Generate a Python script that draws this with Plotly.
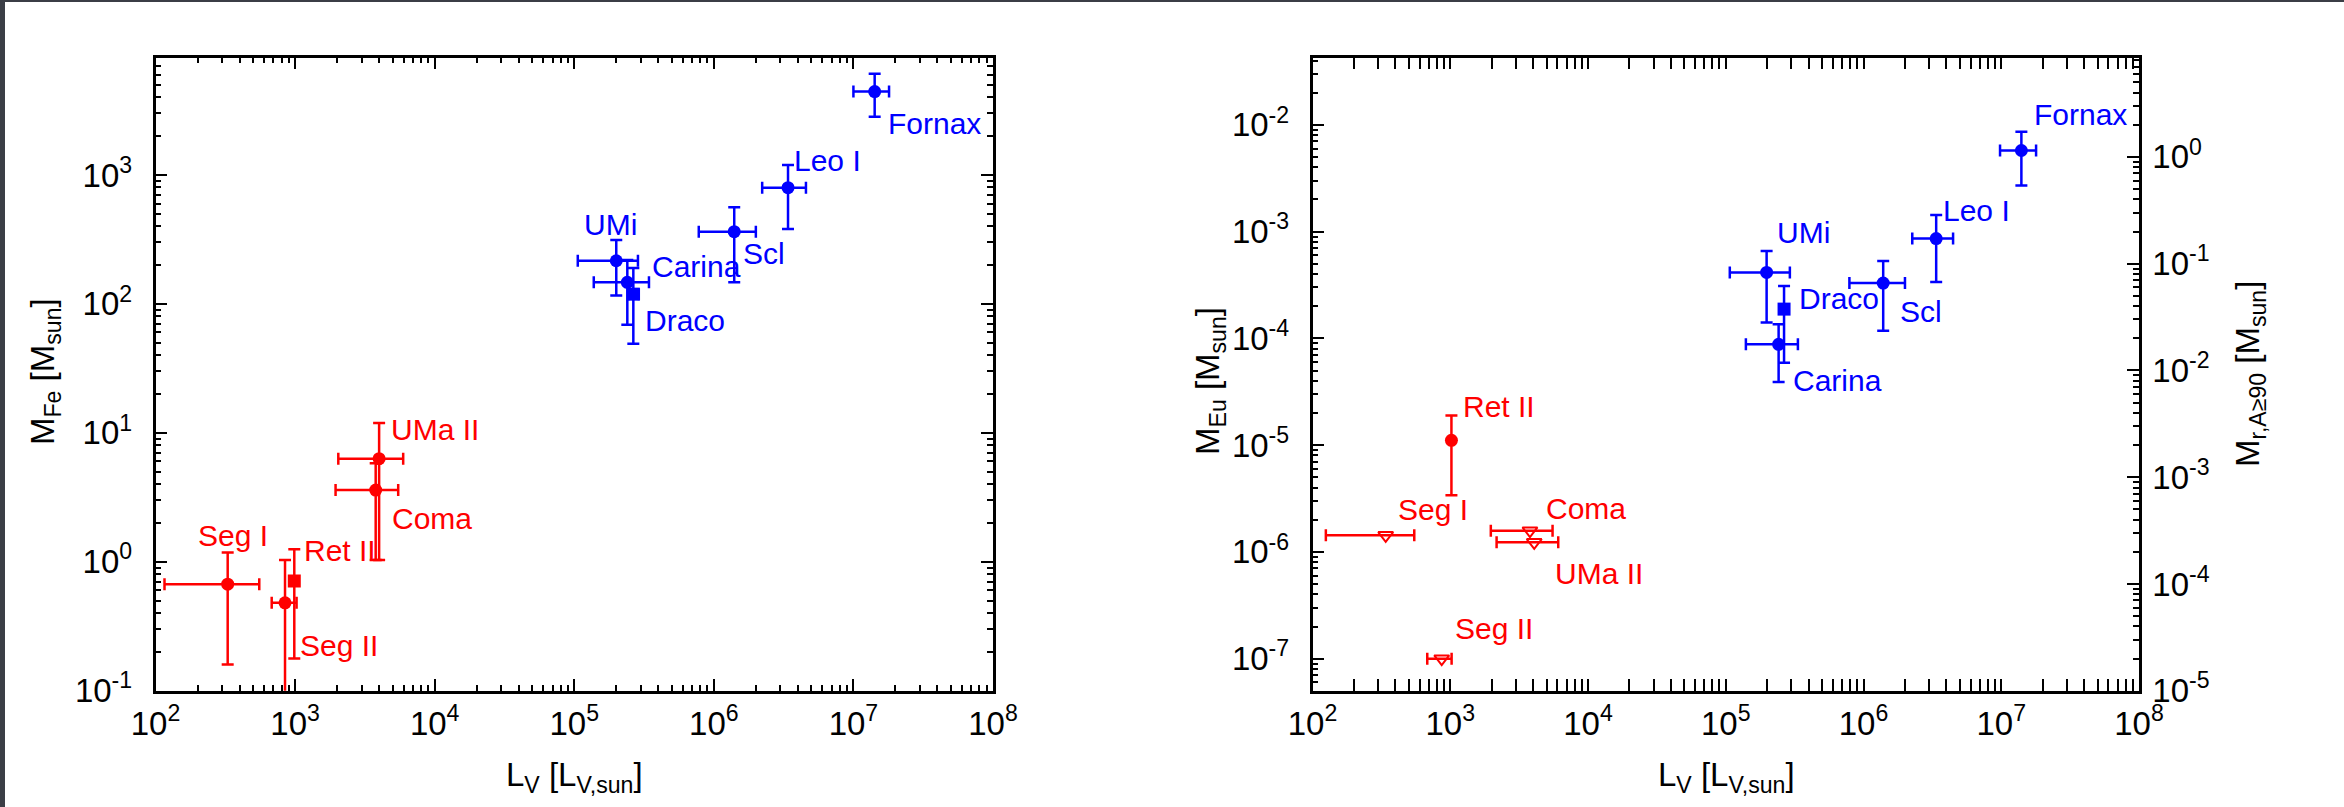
import numpy as np
import plotly.graph_objects as go

# ---------------- data: left panel (iron mass) ----------------
FE_BLUE_NAMES = ["Fornax", "Leo I", "Scl", "UMi", "Carina", "Draco"]
FE_BLUE_L = [1.42e7, 3.4e6, 1.4e6, 2.0e5, 2.4e5, 2.65e5]
FE_BLUE_L_LO = [1.0e7, 2.22e6, 7.8e5, 1.06e5, 1.38e5, 2.45e5]
FE_BLUE_L_HI = [1.8e7, 4.57e6, 2.0e6, 2.86e5, 3.43e5, 2.9e5]
FE_BLUE_M = [4430, 796, 363, 216, 147, 119]
FE_BLUE_M_LO = [2830, 381, 147, 116, 69, 49]
FE_BLUE_M_HI = [6080, 1196, 561, 313, 219, 190]
FE_BLUE_SYM = ["circle", "circle", "circle", "circle", "circle", "square"]

FE_RED_NAMES = ["UMa II", "Coma", "Seg I", "Ret II", "Seg II"]
FE_RED_L = [4000, 3780, 329, 987, 847]
FE_RED_L_LO = [2040, 1950, 116, None, 680]
FE_RED_L_HI = [5950, 5480, 554, None, 1025]
FE_RED_M = [6.3, 3.6, 0.67, 0.71, 0.48]
FE_RED_M_LO = [1.03, 1.03, 0.16, 0.178, 0.05]
FE_RED_M_HI = [11.9, 5.8, 1.18, 1.25, 1.03]
FE_RED_SYM = ["circle", "circle", "circle", "square", "circle"]

# ---------------- data: right panel (europium mass) ----------------
EU_BLUE_NAMES = ["Fornax", "Leo I", "Scl", "UMi", "Draco", "Carina"]
EU_BLUE_L = [1.4e7, 3.37e6, 1.39e6, 1.98e5, 2.65e5, 2.42e5]
EU_BLUE_L_LO = [9.8e6, 2.26e6, 7.9e5, 1.07e5, None, 1.40e5]
EU_BLUE_L_HI = [1.79e7, 4.47e6, 2.0e6, 2.92e5, None, 3.34e5]
EU_BLUE_M = [5.75e-3, 8.6e-4, 3.3e-4, 4.15e-4, 1.88e-4, 8.8e-5]
EU_BLUE_M_LO = [2.7e-3, 3.37e-4, 1.18e-4, 1.41e-4, 5.9e-5, 3.9e-5]
EU_BLUE_M_HI = [8.6e-3, 1.43e-3, 5.3e-4, 6.6e-4, 3.1e-4, 1.36e-4]
EU_BLUE_SYM = ["circle", "circle", "circle", "circle", "square", "circle"]

EU_RED_NAMES = ["Ret II", "Seg I", "Coma", "UMa II", "Seg II"]
EU_RED_L = [1020, 340, 3790, 4070, 867]
EU_RED_L_LO = [None, 125, 1970, 2170, 681]
EU_RED_L_HI = [None, 548, 5530, 6080, 1023]
EU_RED_M = [1.11e-5, 1.43e-6, 1.58e-6, 1.23e-6, 1.0e-7]
EU_RED_M_LO = [3.4e-6, None, None, None, None]
EU_RED_M_HI = [1.9e-5, None, None, None, None]
EU_RED_SYM = ["circle", "triangle-down-open", "triangle-down-open",
              "triangle-down-open", "triangle-down-open"]

# tick exponents
X_TICK_EXP = [2, 3, 4, 5, 6, 7, 8]
FE_TICK_EXP = [-1, 0, 1, 2, 3]
EU_TICK_EXP = [-7, -6, -5, -4, -3, -2]
MR_TICK_EXP = [-5, -4, -3, -2, -1, 0]

# ---------------- label offsets (pixels: dx to left edge, dy up) ----------------
FE_BLUE_OFF = [(11, -32), (4, 27), (7, -22), (-34, 36), (23, 16), (10, -26)]
FE_RED_OFF = [(10, 29), (14, -28), (-32, 49), (8, 30), (13, -43)]
EU_BLUE_OFF = [(11, 36), (5, 28), (15, -28), (8, 40), (13, 11), (12, -36)]
EU_RED_OFF = [(10, 34), (10, 26), (14, 22), (19, -31), (11, 30)]

BLUE = "#0000ff"
RED = "#ff0000"
FONT = "Liberation Sans, Arial, Helvetica, sans-serif"
FS = 30
TICKFS = 33
TITLEFS = 33

fig = go.Figure()
annotations = []


def add_points(names, L, Llo, Lhi, M, Mlo, Mhi, syms, offs, color, xa, ya):
    for i, n in enumerate(names):
        ex = None
        if Llo[i] is not None:
            ex = dict(type="data", symmetric=False, array=[Lhi[i] - L[i]],
                      arrayminus=[L[i] - Llo[i]], color=color, thickness=2.5, width=6)
        ey = None
        if Mlo[i] is not None:
            ey = dict(type="data", symmetric=False, array=[Mhi[i] - M[i]],
                      arrayminus=[M[i] - Mlo[i]], color=color, thickness=2.5, width=6)
        open_sym = syms[i].endswith("open")
        fig.add_trace(go.Scatter(
            x=[L[i]], y=[M[i]], mode="markers", xaxis=xa, yaxis=ya,
            marker=dict(symbol=syms[i], size=13, color=color,
                        line=dict(color=color, width=2 if open_sym else 0)),
            error_x=ex, error_y=ey, showlegend=False, hoverinfo="skip"))
        dx, dy = offs[i]
        annotations.append(dict(
            x=np.log10(L[i]), y=np.log10(M[i]), xref=xa, yref=ya,
            text=n, showarrow=False, xanchor="left", yanchor="middle",
            xshift=dx, yshift=dy, font=dict(color=color, size=FS, family=FONT)))


add_points(FE_BLUE_NAMES, FE_BLUE_L, FE_BLUE_L_LO, FE_BLUE_L_HI, FE_BLUE_M,
           FE_BLUE_M_LO, FE_BLUE_M_HI, FE_BLUE_SYM, FE_BLUE_OFF, BLUE, "x", "y")
add_points(FE_RED_NAMES, FE_RED_L, FE_RED_L_LO, FE_RED_L_HI, FE_RED_M,
           FE_RED_M_LO, FE_RED_M_HI, FE_RED_SYM, FE_RED_OFF, RED, "x", "y")
add_points(EU_BLUE_NAMES, EU_BLUE_L, EU_BLUE_L_LO, EU_BLUE_L_HI, EU_BLUE_M,
           EU_BLUE_M_LO, EU_BLUE_M_HI, EU_BLUE_SYM, EU_BLUE_OFF, BLUE, "x2", "y2")
add_points(EU_RED_NAMES, EU_RED_L, EU_RED_L_LO, EU_RED_L_HI, EU_RED_M,
           EU_RED_M_LO, EU_RED_M_HI, EU_RED_SYM, EU_RED_OFF, RED, "x2", "y2")

# dummy trace to activate the right-hand axis
fig.add_trace(go.Scatter(x=[None], y=[None], xaxis="x2", yaxis="y3",
                         showlegend=False, hoverinfo="skip"))


def pow_text(e):
    return "10<sup>%d</sup>" % e


def minor_vals(exps):
    lo, hi = min(exps) - 1, max(exps) + 1
    return [m * 10.0 ** k for k in range(lo, hi + 1) for m in range(2, 10)]


def log_axis(exps, rng, domain, anchor, mirror="allticks", standoff=12, **kw):
    d = dict(type="log", range=rng, domain=domain, anchor=anchor, automargin=False,
             tickmode="array", tickvals=[10.0 ** e for e in exps],
             ticktext=[pow_text(e) for e in exps],
             ticks="inside", ticklen=12, tickwidth=2, tickcolor="black",
             showline=True, linecolor="black", linewidth=2.5, mirror=mirror,
             showgrid=False, zeroline=False,
             minor=dict(ticks="inside", ticklen=6, tickwidth=2, tickcolor="black",
                        tickmode="array", tickvals=minor_vals(exps), showgrid=False),
             tickfont=dict(size=TICKFS, family=FONT, color="black"),
             ticklabelstandoff=standoff)
    d.update(kw)
    return d


YD = [1 - 690.7 / 807, 1 - 57.6 / 807]
XD1 = [155.5 / 2344, 993.0 / 2344]
XD2 = [1312.5 / 2344, 2139.0 / 2344]

fig.update_layout(
    width=2344, height=807, margin=dict(l=0, r=0, t=0, b=0, autoexpand=False),
    paper_bgcolor="white", plot_bgcolor="white", showlegend=False,
    font=dict(family=FONT, size=FS, color="black"),
    xaxis=log_axis(X_TICK_EXP, [2, 8], XD1, "y", standoff=2),
    yaxis=log_axis(FE_TICK_EXP, [-1, 3.91], YD, "x", standoff=14),
    xaxis2=log_axis(X_TICK_EXP, [2, 8], XD2, "y2", standoff=2),
    yaxis2=log_axis(EU_TICK_EXP, [-7.30, -1.37], YD, "x2", mirror=True, standoff=14),
    yaxis3=log_axis(MR_TICK_EXP, [-5.0, 0.93], YD, "x2", mirror=False, standoff=4,
                    overlaying="y2", side="right"),
)

# axis titles
tfont = dict(size=TITLEFS, family=FONT, color="black")
ttl = dict(xref="paper", yref="paper", showarrow=False, xanchor="center",
           yanchor="middle", font=tfont)
annotations += [
    dict(x=574 / 2344, y=1 - 777 / 807, text="L<sub>V</sub> [L<sub>V,sun</sub>]", **ttl),
    dict(x=1726 / 2344, y=1 - 777 / 807, text="L<sub>V</sub> [L<sub>V,sun</sub>]", **ttl),
    dict(x=45 / 2344, y=1 - 372 / 807, text="M<sub>Fe</sub> [M<sub>sun</sub>]",
         textangle=-90, **ttl),
    dict(x=1210 / 2344, y=1 - 381 / 807, text="M<sub>Eu</sub> [M<sub>sun</sub>]",
         textangle=-90, **ttl),
    dict(x=2250 / 2344, y=1 - 374 / 807, text="M<sub>r,A≥90</sub> [M<sub>sun</sub>]",
         textangle=-90, **ttl),
]
fig.update_layout(annotations=annotations)

# screenshot frame edges
fig.update_layout(shapes=[
    dict(type="rect", xref="paper", yref="paper", x0=0, x1=5 / 2344, y0=0, y1=1,
         fillcolor="#3b3e46", line=dict(width=0)),
    dict(type="rect", xref="paper", yref="paper", x0=0, x1=1, y0=1 - 2 / 807, y1=1,
         fillcolor="#3b3e46", line=dict(width=0)),
])

fig.write_html("out.html")
